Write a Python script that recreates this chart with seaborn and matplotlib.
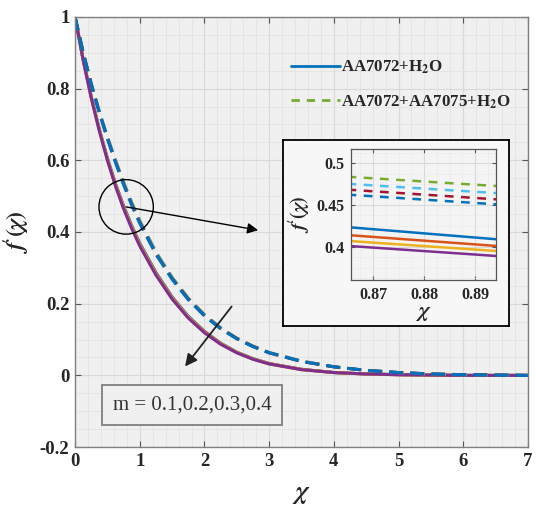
import numpy as np
import pandas as pd
import seaborn as sns
import matplotlib
matplotlib.use("Agg")
import matplotlib.pyplot as plt
from matplotlib.patches import Ellipse
from matplotlib.lines import Line2D
from matplotlib.ticker import MultipleLocator

# similarity variable for the full profiles
chi = [0.0, 0.125, 0.25, 0.375, 0.5, 0.625, 0.75, 0.875, 1.0, 1.25, 1.5, 1.75,
       2.0, 2.25, 2.5, 2.75, 3.0, 3.5, 4.0, 4.5, 5.0, 5.5, 6.0, 7.0]

# f'(chi) for AA7072 + H2O, m = 0.1 .. 0.4
mono_m1 = [1.0, 0.882, 0.778, 0.687, 0.606, 0.535, 0.473, 0.418, 0.369, 0.287, 0.219, 0.165,
           0.123, 0.090, 0.065, 0.047, 0.033, 0.017, 0.008, 0.004, 0.002, 0.001, 0.0, 0.0]
mono_m2 = [1.0, 0.881, 0.777, 0.685, 0.604, 0.533, 0.470, 0.415, 0.366, 0.285, 0.217, 0.163,
           0.122, 0.089, 0.064, 0.046, 0.033, 0.017, 0.008, 0.004, 0.002, 0.001, 0.0, 0.0]
mono_m3 = [1.0, 0.881, 0.775, 0.684, 0.602, 0.530, 0.468, 0.413, 0.364, 0.282, 0.215, 0.162,
           0.120, 0.088, 0.064, 0.046, 0.032, 0.016, 0.008, 0.004, 0.002, 0.001, 0.0, 0.0]
mono_m4 = [1.0, 0.880, 0.774, 0.682, 0.600, 0.528, 0.465, 0.410, 0.361, 0.280, 0.213, 0.160,
           0.119, 0.087, 0.063, 0.045, 0.032, 0.016, 0.008, 0.004, 0.002, 0.001, 0.0, 0.0]

# f'(chi) for AA7072 + AA7075 + H2O, m = 0.1 .. 0.4
hyb_m1 = [1.0, 0.902, 0.815, 0.737, 0.666, 0.601, 0.540, 0.483, 0.432, 0.345, 0.274, 0.216,
          0.170, 0.133, 0.104, 0.082, 0.064, 0.040, 0.024, 0.014, 0.008, 0.004, 0.002, 0.0]
hyb_m2 = [1.0, 0.901, 0.814, 0.735, 0.664, 0.599, 0.537, 0.480, 0.429, 0.343, 0.272, 0.214,
          0.169, 0.132, 0.103, 0.081, 0.064, 0.040, 0.024, 0.014, 0.008, 0.004, 0.002, 0.0]
hyb_m3 = [1.0, 0.901, 0.812, 0.734, 0.662, 0.596, 0.535, 0.478, 0.427, 0.340, 0.270, 0.213,
          0.167, 0.131, 0.103, 0.081, 0.063, 0.039, 0.024, 0.014, 0.008, 0.004, 0.002, 0.0]
hyb_m4 = [1.0, 0.900, 0.811, 0.732, 0.660, 0.594, 0.532, 0.475, 0.424, 0.338, 0.268, 0.211,
          0.166, 0.130, 0.102, 0.080, 0.063, 0.039, 0.024, 0.014, 0.008, 0.004, 0.002, 0.0]

# magnified window around chi ~ 0.88
chi_zoom = [0.865, 0.895]
zoom_mono_m1 = [0.4235, 0.4085]
zoom_mono_m2 = [0.4140, 0.4005]
zoom_mono_m3 = [0.4070, 0.3945]
zoom_mono_m4 = [0.4010, 0.3885]
zoom_hyb_m1 = [0.4840, 0.4725]
zoom_hyb_m2 = [0.4755, 0.4640]
zoom_hyb_m3 = [0.4685, 0.4565]
zoom_hyb_m4 = [0.4625, 0.4505]

m_values = [0.1, 0.2, 0.3, 0.4]
mono_colors = ["#0072BD", "#D95319", "#EDB120", "#7E2F8E"]
hyb_colors = ["#77AC30", "#4DBEEE", "#A2142F", "#0072BD"]
legend_labels = [r"AA7072+H$_\mathbf{2}$O", r"AA7072+AA7075+H$_\mathbf{2}$O"]
m_label = "m = 0.1,0.2,0.3,0.4"
y_label = r"$f\hspace{-0.08}'(\chi)$"


def to_frame(x, mono, hyb):
    parts = []
    for m, vals in zip(m_values, mono):
        parts.append(pd.DataFrame({"chi": x, "f": vals, "m": m, "fluid": "mono"}))
    for m, vals in zip(m_values, hyb):
        parts.append(pd.DataFrame({"chi": x, "f": vals, "m": m, "fluid": "hybrid"}))
    return pd.concat(parts, ignore_index=True)


full = to_frame(chi, [mono_m1, mono_m2, mono_m3, mono_m4],
                [hyb_m1, hyb_m2, hyb_m3, hyb_m4])
zoom = to_frame(chi_zoom, [zoom_mono_m1, zoom_mono_m2, zoom_mono_m3, zoom_mono_m4],
                [zoom_hyb_m1, zoom_hyb_m2, zoom_hyb_m3, zoom_hyb_m4])


def draw_curves(target, df, lw, dash):
    for m, c in zip(m_values, mono_colors):
        sub = df[(df.fluid == "mono") & (df.m == m)]
        sns.lineplot(data=sub, x="chi", y="f", ax=target, color=c, lw=lw,
                     estimator=None, sort=False, legend=False)
    for m, c in zip(m_values, hyb_colors):
        sub = df[(df.fluid == "hybrid") & (df.m == m)]
        sns.lineplot(data=sub, x="chi", y="f", ax=target, color=c, lw=lw,
                     estimator=None, sort=False, legend=False, linestyle=dash)


sns.set_style("ticks")
plt.rcParams["font.family"] = ["Liberation Serif", "DejaVu Serif"]
plt.rcParams["font.weight"] = "bold"
plt.rcParams["mathtext.fontset"] = "stix"

fig = plt.figure(figsize=(5.36, 5.11), dpi=100)
ax = fig.add_axes([0.140, 0.125, 0.845, 0.842])

draw_curves(ax, full, 2.2, (0, (4.5, 2.4)))

ax.set_facecolor("#f0f0f0")
ax.set_xlim(0, 7)
ax.set_ylim(-0.2, 1.0)
ax.xaxis.set_minor_locator(MultipleLocator(0.2))
ax.yaxis.set_minor_locator(MultipleLocator(0.05))
ax.grid(which="major", color="#d9d9d9", lw=0.9)
ax.grid(which="minor", color="#e3e3e3", lw=0.6)
ax.set_axisbelow(True)
ax.tick_params(which="both", direction="in", top=True, right=True,
               color="#555555", labelsize=13.5, labelcolor="#262626", pad=4)
ax.tick_params(which="minor", length=0)
ax.tick_params(which="major", length=4)
for s in ax.spines.values():
    s.set_color("#808080")
    s.set_linewidth(1.0)
ax.set_xticks(range(8))
ax.set_xticklabels([str(v) for v in range(8)], fontweight="bold")
ax.set_yticks([-0.2, 0, 0.2, 0.4, 0.6, 0.8, 1.0])
ax.set_yticklabels(["-0.2", "0", "0.2", "0.4", "0.6", "0.8", "1"], fontweight="bold")
ax.set_xlabel(r"$\chi$", fontsize=19, color="#262626")
ax.xaxis.set_label_coords(0.5, -0.085)
ax.set_ylabel(y_label, fontsize=17, color="#262626")
ax.yaxis.set_label_coords(-0.098, 0.5)

handles = [Line2D([], [], color=mono_colors[0], lw=2.0),
           Line2D([], [], color=hyb_colors[0], lw=2.0, linestyle=(0, (3, 2.5)))]
ax.legend(handles, legend_labels, loc="upper left", bbox_to_anchor=(0.462, 0.918),
          frameon=False, prop={"family": "Liberation Serif", "weight": "bold", "size": 12.2},
          handlelength=2.9, handletextpad=0.05, labelspacing=1.0, borderaxespad=0)

# zoom marker and arrows
ax.add_patch(Ellipse((0.79, 0.470), width=0.84, height=0.152, fill=False,
                     ec="black", lw=1.0, zorder=6))
ax.annotate("", xy=(2.83, 0.405), xytext=(0.79, 0.470),
            arrowprops=dict(arrowstyle="-|>", color="black", lw=1.0,
                            mutation_scale=16, shrinkA=0, shrinkB=0), zorder=6)
ax.annotate("", xy=(1.70, 0.025), xytext=(2.42, 0.192),
            arrowprops=dict(arrowstyle="-|>", color="#222222", lw=1.3,
                            mutation_scale=18, shrinkA=0, shrinkB=0), zorder=6)
ax.text(1.81, -0.083, m_label, ha="center", va="center", fontsize=15,
        color="#333333", fontweight="normal",
        bbox=dict(boxstyle="square,pad=0.5", fc="#f0f0f0", ec="#808080", lw=1.3),
        zorder=6)

# framed inset panel
frame_ax = fig.add_axes([0.528, 0.362, 0.4216, 0.364])
frame_ax.set_facecolor("#f7f7f7")
frame_ax.set_xticks([])
frame_ax.set_yticks([])
for s in frame_ax.spines.values():
    s.set_color("black")
    s.set_linewidth(1.3)

ins = fig.add_axes([0.655, 0.452, 0.2705, 0.256])
draw_curves(ins, zoom, 1.8, (0, (3.5, 3.0)))
ins.set_facecolor("#f4f4f4")
ins.set_xlim(0.8657, 0.8941)
ins.set_ylim(0.36, 0.517)
ins.set_xticks([0.87, 0.88, 0.89])
ins.set_xticklabels(["0.87", "0.88", "0.89"], fontweight="bold")
ins.set_yticks([0.4, 0.45, 0.5])
ins.set_yticklabels(["0.4", "0.45", "0.5"], fontweight="bold")
ins.xaxis.set_minor_locator(MultipleLocator(0.0025))
ins.yaxis.set_minor_locator(MultipleLocator(0.0125))
ins.grid(which="major", color="#dadada", lw=0.8)
ins.grid(which="minor", color="#e2e2e2", lw=0.6, linestyle=":")
ins.set_axisbelow(True)
ins.tick_params(which="both", direction="in", top=True, right=True,
                color="#555555", labelsize=11.5, labelcolor="#262626", pad=5)
ins.tick_params(which="minor", length=0)
ins.tick_params(which="major", length=3)
for s in ins.spines.values():
    s.set_color("#555555")
    s.set_linewidth(0.9)
ins.set_xlabel(r"$\chi$", fontsize=16, color="#262626", labelpad=1)
ins.set_ylabel(y_label, fontsize=14.5, color="#262626", labelpad=3)

fig.savefig("out.png", dpi=100)
